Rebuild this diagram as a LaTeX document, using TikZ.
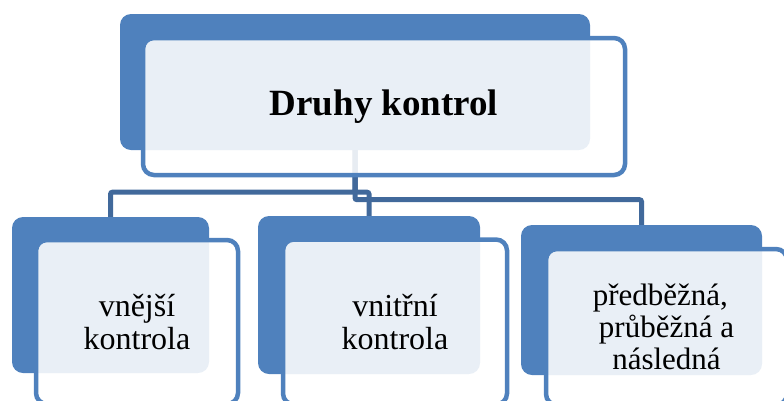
\documentclass[tikz,border=0pt]{standalone}
\usepackage{fontspec}
\setmainfont{Liberation Serif}
\usepackage{tikz}
\definecolor{smblue}{HTML}{4F81BD}
\definecolor{smdark}{HTML}{41699B}
\tikzset{
  backbox/.style={rectangle, rounded corners=11pt, fill=smblue, inner sep=0pt},
  frontbox/.style={rectangle, rounded corners=11pt, draw=smblue, line width=4.5pt,
    fill=white, fill opacity=0.88, text opacity=1, inner sep=0pt, align=center},
  conn/.style={draw=smdark, line width=5pt, rounded corners=2pt},
}

\begin{document}
\begin{tikzpicture}[x=1pt,y=-1pt]
        \useasboundingbox (0,0) rectangle (784,400);
        \node[backbox, minimum width=470pt, minimum height=136pt] (druhy) at (355,82) {};
        \node[backbox, minimum width=197pt, minimum height=156pt] (vnejsi) at (110.5,295) {};
        \node[backbox, minimum width=222pt, minimum height=158pt] (vnitrni) at (369,295) {};
        \node[backbox, minimum width=241pt, minimum height=150pt] (casova) at (641.5,300) {};
        \draw[conn] (druhy.south) -- ++(0,42) -| (vnejsi.north);
        \draw[conn] (druhy.south) -- ++(0,42) -| (vnitrni.north);
        \draw[conn] (druhy.south) -- ++(0,49.5) -| (casova.north);
        \node[frontbox, minimum width=482pt, minimum height=137pt, font=\fontsize{37}{44}\selectfont\bfseries] (druhyF) at (384,106.5) {Druhy kontrol};
        \node[frontbox, minimum width=202pt, minimum height=164pt, font=\fontsize{32}{33}\selectfont] (vnejsiF) at (137,322) {vnější\\kontrola};
        \node[frontbox, minimum width=224pt, minimum height=165pt, font=\fontsize{32}{33}\selectfont] (vnitrniF) at (395,322) {vnitřní\\kontrola};
        \node[frontbox, minimum width=241pt, minimum height=156pt, font=\fontsize{31}{32}\selectfont] (casovaF) at (666.5,327) {předběžná,\hspace*{0.4em}\\průběžná a\\následná};
\end{tikzpicture}
\end{document}
